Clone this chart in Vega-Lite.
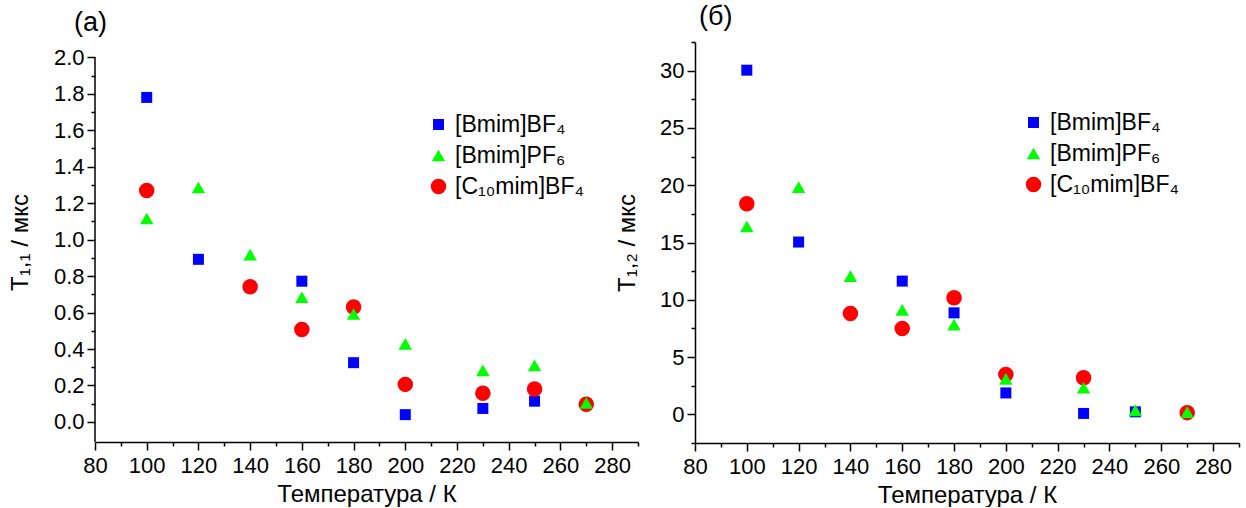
{
  "$schema": "https://vega.github.io/schema/vega-lite/v6.json",
  "background": "white",
  "padding": {"left": 8, "top": 3, "right": 5, "bottom": 0},
  "bounds": "flush",
  "spacing": 57,
  "config": {
    "font": "Liberation Sans",
    "view": {"stroke": null},
    "axis": {
      "domainColor": "black", "domainWidth": 1.5, "tickColor": "black", "tickWidth": 1.5,
      "labelColor": "black", "titleColor": "black", "labelFontSize": 22, "titleFontSize": 24,
      "titleFontWeight": "normal", "grid": false, "labelFont": "Liberation Sans", "titleFont": "Liberation Sans",
      "labelOverlap": false, "labelFlush": false
    },
    "legend": {
      "labelFont": "Liberation Sans", "labelFontSize": 23, "labelColor": "black", "padding": 0,
      "symbolSize": 130, "symbolStrokeWidth": 0, "rowPadding": 7, "labelOffset": 5
    },
    "title": {"font": "Liberation Sans", "fontSize": 27, "fontWeight": "normal", "color": "black"}
  },
  "datasets": {
    "a": [
      {"T": 100, "v": 1.78, "s": "[Bmim]BF₄"},
      {"T": 120, "v": 0.892, "s": "[Bmim]BF₄"},
      {"T": 160, "v": 0.772, "s": "[Bmim]BF₄"},
      {"T": 180, "v": 0.325, "s": "[Bmim]BF₄"},
      {"T": 200, "v": 0.04, "s": "[Bmim]BF₄"},
      {"T": 230, "v": 0.074, "s": "[Bmim]BF₄"},
      {"T": 250, "v": 0.114, "s": "[Bmim]BF₄"},
      {"T": 100, "v": 1.27, "s": "[C₁₀mim]BF₄"},
      {"T": 140, "v": 0.742, "s": "[C₁₀mim]BF₄"},
      {"T": 160, "v": 0.507, "s": "[C₁₀mim]BF₄"},
      {"T": 180, "v": 0.631, "s": "[C₁₀mim]BF₄"},
      {"T": 200, "v": 0.206, "s": "[C₁₀mim]BF₄"},
      {"T": 230, "v": 0.157, "s": "[C₁₀mim]BF₄"},
      {"T": 250, "v": 0.181, "s": "[C₁₀mim]BF₄"},
      {"T": 270, "v": 0.097, "s": "[C₁₀mim]BF₄"},
      {"T": 100, "v": 1.116, "s": "[Bmim]PF₆"},
      {"T": 120, "v": 1.286, "s": "[Bmim]PF₆"},
      {"T": 140, "v": 0.918, "s": "[Bmim]PF₆"},
      {"T": 160, "v": 0.684, "s": "[Bmim]PF₆"},
      {"T": 180, "v": 0.592, "s": "[Bmim]PF₆"},
      {"T": 200, "v": 0.428, "s": "[Bmim]PF₆"},
      {"T": 230, "v": 0.283, "s": "[Bmim]PF₆"},
      {"T": 250, "v": 0.31, "s": "[Bmim]PF₆"},
      {"T": 270, "v": 0.104, "s": "[Bmim]PF₆"}
    ],
    "b": [
      {"T": 100, "v": 30.04, "s": "[Bmim]BF₄"},
      {"T": 120, "v": 15.04, "s": "[Bmim]BF₄"},
      {"T": 160, "v": 11.63, "s": "[Bmim]BF₄"},
      {"T": 180, "v": 8.86, "s": "[Bmim]BF₄"},
      {"T": 200, "v": 1.87, "s": "[Bmim]BF₄"},
      {"T": 230, "v": 0.08, "s": "[Bmim]BF₄"},
      {"T": 250, "v": 0.22, "s": "[Bmim]BF₄"},
      {"T": 100, "v": 18.38, "s": "[C₁₀mim]BF₄"},
      {"T": 140, "v": 8.8, "s": "[C₁₀mim]BF₄"},
      {"T": 160, "v": 7.5, "s": "[C₁₀mim]BF₄"},
      {"T": 180, "v": 10.17, "s": "[C₁₀mim]BF₄"},
      {"T": 200, "v": 3.49, "s": "[C₁₀mim]BF₄"},
      {"T": 230, "v": 3.2, "s": "[C₁₀mim]BF₄"},
      {"T": 270, "v": 0.15, "s": "[C₁₀mim]BF₄"},
      {"T": 100, "v": 16.4, "s": "[Bmim]PF₆"},
      {"T": 120, "v": 19.83, "s": "[Bmim]PF₆"},
      {"T": 140, "v": 12.06, "s": "[Bmim]PF₆"},
      {"T": 160, "v": 9.12, "s": "[Bmim]PF₆"},
      {"T": 180, "v": 7.83, "s": "[Bmim]PF₆"},
      {"T": 200, "v": 3.1, "s": "[Bmim]PF₆"},
      {"T": 230, "v": 2.32, "s": "[Bmim]PF₆"},
      {"T": 250, "v": 0.35, "s": "[Bmim]PF₆"},
      {"T": 270, "v": 0.2, "s": "[Bmim]PF₆"}
    ]
  },
  "resolve": {
    "scale": {"color": "independent", "shape": "independent", "size": "independent", "x": "independent", "y": "independent"},
    "legend": {"color": "independent", "shape": "independent"}
  },
  "hconcat": [
    {
      "width": 543,
      "height": 400,
      "title": {"text": "(a)", "anchor": "start", "frame": "group", "dx": -21, "offset": 5},
      "layer": [
        {
          "data": {"name": "a"},
          "mark": {"type": "point", "filled": true, "opacity": 1, "strokeWidth": 0},
          "encoding": {
            "x": {
              "field": "T", "type": "quantitative",
              "scale": {"domain": [80, 290], "nice": false, "zero": false},
              "axis": {
                "values": [80, 90, 100, 110, 120, 130, 140, 150, 160, 170, 180, 190, 200, 210, 220, 230, 240, 250, 260, 270, 280, 290],
                "labelExpr": "datum.value % 20 == 0 ? datum.value : ''",
                "labelOverlap": false,
                "tickSize": {"condition": {"test": "datum.value % 20 != 0", "value": 4}, "value": 8},
                "title": "Температура / К", "labelPadding": 5, "titlePadding": 6
              }
            },
            "y": {
              "field": "v", "type": "quantitative",
              "scale": {"domain": [-0.11, 2.084], "nice": false, "zero": false},
              "axis": {
                "domain": false,
                "labelOverlap": false,
                "values": [0, 0.1, 0.2, 0.3, 0.4, 0.5, 0.6, 0.7, 0.8, 0.9, 1.0, 1.1, 1.2, 1.3, 1.4, 1.5, 1.6, 1.7, 1.8, 1.9, 2.0],
                "labelExpr": "round(datum.value * 10) % 2 == 0 ? format(datum.value, '.1f') : ''",
                "tickSize": {"condition": {"test": "round(datum.value * 10) % 2 != 0", "value": 4}, "value": 8},
                "title": "T₁,₁ / мкс", "labelPadding": 3, "titlePadding": 21
              }
            },
            "color": {
              "field": "s", "type": "nominal",
              "scale": {"domain": ["[Bmim]BF₄", "[Bmim]PF₆", "[C₁₀mim]BF₄"], "range": ["#0000ff", "#00ff00", "#ff0000"]},
              "legend": {"orient": "none", "legendX": 332, "legendY": 71, "title": null}
            },
            "shape": {
              "field": "s", "type": "nominal",
              "scale": {"domain": ["[Bmim]BF₄", "[Bmim]PF₆", "[C₁₀mim]BF₄"], "range": ["square", "triangle-up", "circle"]},
              "legend": {"orient": "none", "legendX": 332, "legendY": 71, "title": null}
            },
            "size": {
              "field": "s", "type": "nominal",
              "scale": {"domain": ["[Bmim]BF₄", "[Bmim]PF₆", "[C₁₀mim]BF₄"], "range": [121, 240, 160]},
              "legend": null
            }
          }
        },
        {
          "data": {"values": [{}]},
          "mark": {"type": "rule", "color": "black", "strokeWidth": 1.5},
          "encoding": {
            "x": {
              "datum": 80, "type": "quantitative",
              "axis": {
                "values": [80, 90, 100, 110, 120, 130, 140, 150, 160, 170, 180, 190, 200, 210, 220, 230, 240, 250, 260, 270, 280, 290],
                "labelExpr": "datum.value % 20 == 0 ? datum.value : ''",
                "labelOverlap": false,
                "tickSize": {"condition": {"test": "datum.value % 20 != 0", "value": 4}, "value": 8},
                "title": "Температура / К", "labelPadding": 5, "titlePadding": 6
              }
            },
            "y": {
              "datum": -0.11, "type": "quantitative",
              "axis": {
                "domain": false,
                "labelOverlap": false,
                "values": [0, 0.1, 0.2, 0.3, 0.4, 0.5, 0.6, 0.7, 0.8, 0.9, 1.0, 1.1, 1.2, 1.3, 1.4, 1.5, 1.6, 1.7, 1.8, 1.9, 2.0],
                "labelExpr": "round(datum.value * 10) % 2 == 0 ? format(datum.value, '.1f') : ''",
                "tickSize": {"condition": {"test": "round(datum.value * 10) % 2 != 0", "value": 4}, "value": 8},
                "title": "T₁,₁ / мкс", "labelPadding": 3, "titlePadding": 21
              }
            },
            "y2": {"datum": 2.0}
          }
        }
      ]
    },
    {
      "width": 544,
      "height": 401,
      "title": {"text": "(б)", "anchor": "start", "frame": "group", "dx": 4, "offset": 0},
      "data": {"name": "b"},
      "mark": {"type": "point", "filled": true, "opacity": 1, "strokeWidth": 0},
      "encoding": {
        "x": {
          "field": "T", "type": "quantitative",
          "scale": {"domain": [80, 290], "nice": false, "zero": false},
          "axis": {
            "values": [80, 90, 100, 110, 120, 130, 140, 150, 160, 170, 180, 190, 200, 210, 220, 230, 240, 250, 260, 270, 280, 290],
            "labelExpr": "datum.value % 20 == 0 ? datum.value : ''",
            "labelOverlap": false,
            "tickSize": {"condition": {"test": "datum.value % 20 != 0", "value": 4}, "value": 8},
            "title": "Температура / К", "labelPadding": 5, "titlePadding": 6
          }
        },
        "y": {
          "field": "v", "type": "quantitative",
          "scale": {"domain": [-2.5, 32.5], "nice": false, "zero": false},
          "axis": {
            "labelOverlap": false,
            "values": [-2.5, 0, 2.5, 5, 7.5, 10, 12.5, 15, 17.5, 20, 22.5, 25, 27.5, 30, 32.5],
            "labelExpr": "datum.value % 5 == 0 ? datum.value : ''",
            "tickSize": {"condition": {"test": "datum.value % 5 != 0", "value": 4}, "value": 8},
            "title": "T₁,₂ / мкс", "labelPadding": 3, "titlePadding": 20
          }
        },
        "color": {
          "field": "s", "type": "nominal",
          "scale": {"domain": ["[Bmim]BF₄", "[Bmim]PF₆", "[C₁₀mim]BF₄"], "range": ["#0000ff", "#00ff00", "#ff0000"]},
          "legend": {"orient": "none", "legendX": 327, "legendY": 69, "title": null}
        },
        "shape": {
          "field": "s", "type": "nominal",
          "scale": {"domain": ["[Bmim]BF₄", "[Bmim]PF₆", "[C₁₀mim]BF₄"], "range": ["square", "triangle-up", "circle"]},
          "legend": {"orient": "none", "legendX": 327, "legendY": 69, "title": null}
        },
        "size": {
          "field": "s", "type": "nominal",
          "scale": {"domain": ["[Bmim]BF₄", "[Bmim]PF₆", "[C₁₀mim]BF₄"], "range": [121, 240, 160]},
          "legend": null
        }
      }
    }
  ]
}
